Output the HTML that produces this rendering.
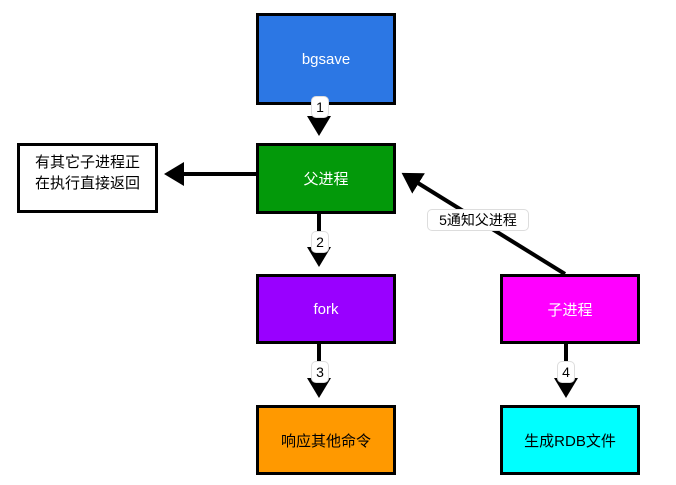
<!DOCTYPE html>
<html><head><meta charset="utf-8"><style>
body{margin:0;width:676px;height:485px;background:#fff;overflow:hidden;position:relative;font-family:"Liberation Sans","Noto Sans CJK SC",sans-serif}
.b{position:absolute;box-sizing:border-box;border:3px solid #000;display:flex;align-items:center;justify-content:center;font-size:15px;color:#fff;text-align:center}
.l{position:absolute;background:#fff;border:1px solid #ddd;border-radius:5px;font-size:14px;color:#000;text-align:center;line-height:20px}
</style></head><body>
<svg width="676" height="485" style="position:absolute;left:0;top:0">
<defs><marker id="a" markerWidth="6" markerHeight="6" refX="4" refY="3" orient="auto"><path d="M0,0 L5,3 L0,6 Z" fill="#000"/></marker></defs>
<g stroke="#000" stroke-width="4" fill="none">
<line x1="319" y1="104" x2="319" y2="132" marker-end="url(#a)"/>
<line x1="319" y1="213" x2="319" y2="263" marker-end="url(#a)"/>
<line x1="319" y1="343" x2="319" y2="394" marker-end="url(#a)"/>
<line x1="566" y1="343" x2="566" y2="394" marker-end="url(#a)"/>
<line x1="256" y1="174" x2="168" y2="174" marker-end="url(#a)"/>
<line x1="565" y1="274" x2="405" y2="175" marker-end="url(#a)"/>
</g></svg>
<div class="b" style="left:256px;top:13px;width:140px;height:92px;background:#2c77e4">bgsave</div>
<div class="b" style="left:256px;top:143px;width:140px;height:71px;background:#03990a">父进程</div>
<div class="b" style="left:17px;top:143px;width:141px;height:70px;background:#fff;color:#000;align-items:flex-start;padding-top:6px;line-height:21px">有其它子进程正<br>在执行直接返回</div>
<div class="b" style="left:256px;top:274px;width:140px;height:70px;background:#9900ff">fork</div>
<div class="b" style="left:500px;top:274px;width:140px;height:70px;background:#ff00ff">子进程</div>
<div class="b" style="left:256px;top:405px;width:140px;height:70px;background:#ff9900;color:#000">响应其他命令</div>
<div class="b" style="left:500px;top:405px;width:140px;height:70px;background:#00ffff;color:#000">生成RDB文件</div>
<div class="l" style="left:311px;top:96px;width:16px">1</div>
<div class="l" style="left:311px;top:231px;width:16px">2</div>
<div class="l" style="left:311px;top:361px;width:16px">3</div>
<div class="l" style="left:557px;top:361px;width:16px">4</div>
<div class="l" style="left:427px;top:209px;width:100px">5通知父进程</div>
</body></html>
